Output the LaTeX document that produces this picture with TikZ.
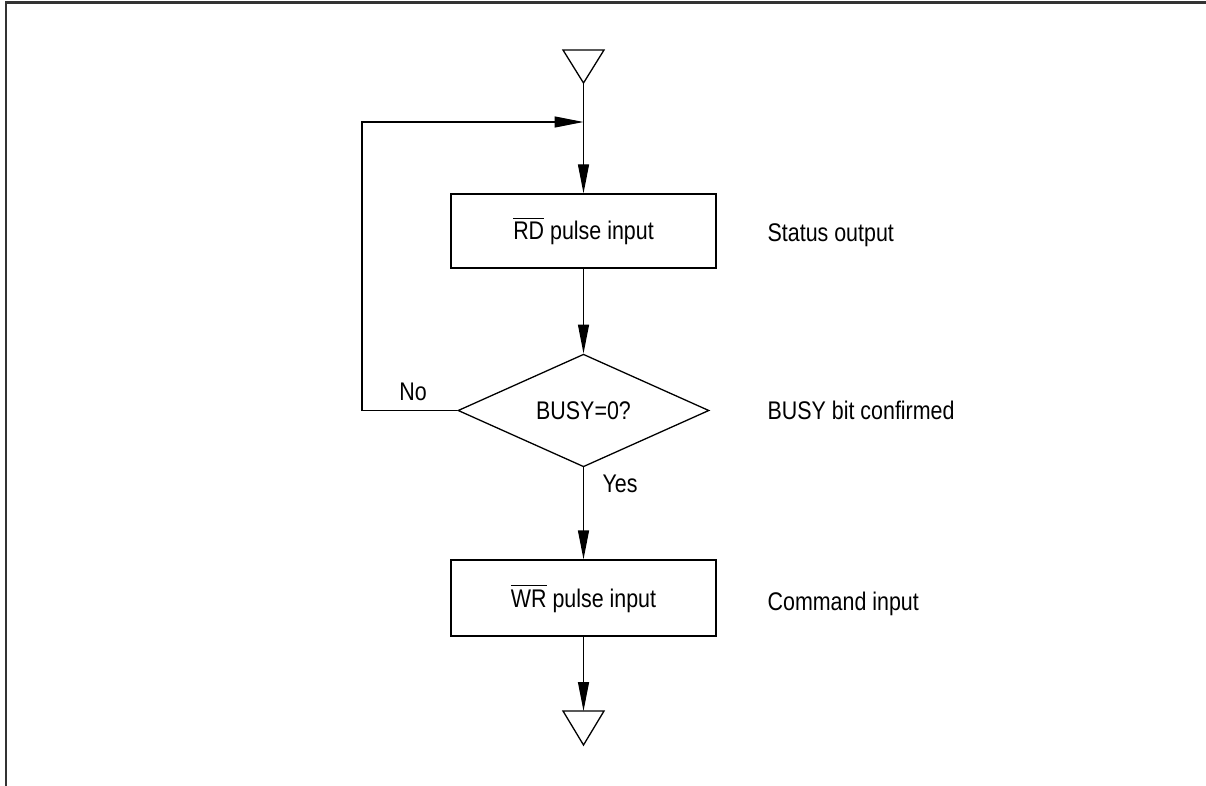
\documentclass[tikz,border=0pt]{standalone}
\usepackage{fontspec}
\setmainfont[FakeStretch=0.84]{Liberation Sans}
\usetikzlibrary{arrows.meta,shapes.geometric}
\newcommand{\ovbar}[1]{\setbox0\hbox{#1}\rlap{\raisebox{21pt}{\rule{\wd0}{1.4pt}}}\box0\relax}
\begin{document}
\begin{tikzpicture}[x=1pt,y=-1pt,
  line width=1.3pt,
  every node/.style={font=\fontsize{25.5}{30}\selectfont},
  arr/.style={-{Triangle[length=29pt,width=11pt]}},
  procbox/.style={draw,rectangle,minimum width=265pt,minimum height=74pt,inner sep=0pt,text height=18pt,text depth=0pt},
  decision/.style={draw,diamond,minimum width=251pt,minimum height=109pt,inner sep=0pt,text height=18pt,text depth=0pt},
  note/.style={anchor=base west,inner sep=0pt},
  term/.style={draw,line width=1.3pt}]
\useasboundingbox (0,0) rectangle (1206,786);
% frame
\draw[line width=2.5pt,black!80] (5,2.5) -- (1206,2.5);
\draw[line width=2.5pt,black!80] (6,2.5) -- (6,786);
% top terminal
\draw[term] (563,50) -- (604,50) -- (583.5,83) -- cycle;
\coordinate (start) at (583.5,83);
% boxes
\node[procbox] (rd) at (583.5,231) {\ovbar{RD} pulse input};
\node[decision] (busy) at (583.5,410.5) {BUSY=0?};
\node[procbox,minimum height=76pt] (wr) at (583.5,598) {\ovbar{WR} pulse input};
% bottom terminal
\draw[term] (563,711) -- (604,711) -- (583.5,745) -- cycle;
\coordinate (end) at (583.5,711);
\coordinate (join) at (583.5,122);
\coordinate (lb) at (362,410.5);
\coordinate (lt) at (362,122);
% connectors
\draw[arr] (start) -- (rd.north);
\draw[arr] (rd.south) -- (busy.north);
\draw[arr] (busy.south) -- (wr.north);
\draw[arr] (wr.south) -- (end);
\draw[arr] (busy.west) -- (lb) -- (lt) -- (join);
% labels
\node (no) at (413,392) {No};
\node (yes) at (620,484) {Yes};
\node[note] (n1) at (767,241) {Status output};
\node[note] (n2) at (767,419) {BUSY bit confirmed};
\node[note] (n3) at (767,610) {Command input};
\end{tikzpicture}
\end{document}
